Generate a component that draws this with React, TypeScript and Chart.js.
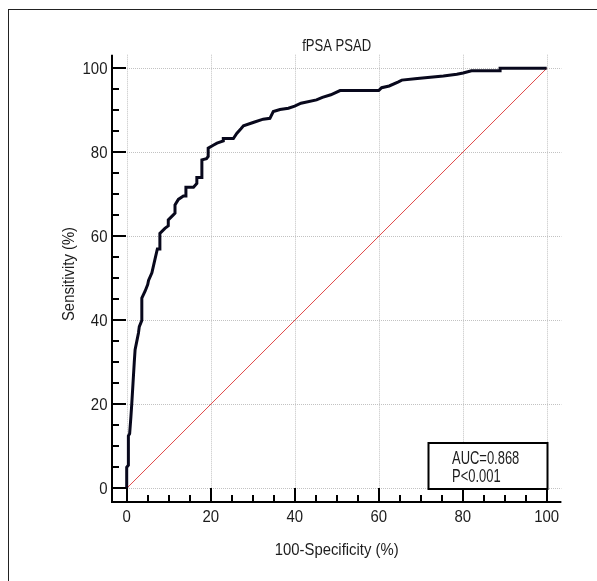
import React, { useEffect, useRef } from 'react';
import { Chart, registerables } from 'chart.js';

Chart.register(...registerables);

// ROC curve (100-Specificity %, Sensitivity %)
const fprValues = [
  0, 0, 0.4, 0.4, 0.7, 1.0, 1.2, 1.5, 1.8, 2.0, 2.4, 2.8, 3.0, 3.6, 3.6, 4.4, 5.0, 5.2, 6.0, 6.7,
  7.3, 7.9, 7.9, 9.1, 9.9, 9.9, 11.1, 11.5, 11.5, 12.3, 13.5, 14.1, 14.1, 15.9, 16.7, 16.7, 17.9, 17.9,
  19.0, 19.4, 19.4, 20.6, 21.5, 23.0, 23.0, 25.4, 26.2, 27.2, 27.8, 30.1, 32.5, 34.1, 34.9, 36.5, 38.5,
  40.0, 41.5, 45.2, 46.6, 48.6, 50.8, 60.0, 60.7, 62.5, 64.7, 65.5, 69.2, 75.4, 78.6, 80.1, 82.1, 88.9,
  88.9, 100,
];
const tprValues = [
  0, 5, 5.5, 12.5, 13, 17, 20, 25, 30, 33, 35, 37, 38.5, 40, 45.3, 47, 48.5, 49.5, 51.3, 54.4,
  57, 57, 60.7, 61.9, 62.5, 63.9, 65.1, 65.5, 67.5, 68.8, 69.6, 69.6, 71.7, 71.7, 72.6, 74, 74, 78.2,
  78.5, 79, 81, 81.7, 82.2, 82.7, 83.3, 83.3, 84.5, 85.6, 86.3, 87.1, 87.9, 88.1, 89.7, 90.2, 90.5,
  91, 91.7, 92.5, 93.1, 93.7, 94.7, 94.7, 95.4, 95.8, 96.8, 97.2, 97.6, 98.2, 98.6, 98.9, 99.4, 99.4,
  100, 100,
];
const diagX = [0, 100];
const diagY = [0, 100];
const majorTicks = [0, 20, 40, 60, 80, 100];
const minorStep = 5;
const titleText = 'fPSA PSAD';
const xTitle = '100-Specificity (%)';
const yTitle = 'Sensitivity (%)';
const statLines = ['AUC=0.868', 'P<0.001'];

const FONT = "'Liberation Sans', Arial, sans-serif";
const TEXT_COLOR = '#1c1c1c';

function narrowText(ctx: any, text: string, x: number, y: number, size: number, squeeze: number, align: string, rotate = false) {
  ctx.save();
  ctx.translate(x, y);
  if (rotate) ctx.rotate(-Math.PI / 2);
  ctx.scale(squeeze, 1);
  ctx.font = `${size}px ${FONT}`;
  ctx.fillStyle = TEXT_COLOR;
  ctx.textAlign = align;
  ctx.textBaseline = 'alphabetic';
  ctx.fillText(text, 0, 0);
  ctx.restore();
}

const decor = {
  id: 'decor',
  beforeDatasetsDraw(chart: any) {
    const { ctx, chartArea: a, scales } = chart;
    const x = scales.x;
    const y = scales.y;
    ctx.save();
    ctx.strokeStyle = '#c2c2c2';
    ctx.lineWidth = 1;
    ctx.setLineDash([1, 1]);
    for (const v of majorTicks) {
      const px = Math.round(x.getPixelForValue(v)) + 0.5;
      ctx.beginPath();
      ctx.moveTo(px, a.top);
      ctx.lineTo(px, a.bottom - 1);
      ctx.stroke();
      const py = Math.round(y.getPixelForValue(v)) + 0.5;
      ctx.beginPath();
      ctx.moveTo(a.left + 1, py);
      ctx.lineTo(a.right, py);
      ctx.stroke();
    }
    ctx.restore();
  },
  afterDatasetsDraw(chart: any) {
    const { ctx, chartArea: a, scales } = chart;
    const x = scales.x;
    const y = scales.y;
    ctx.save();
    // axis lines
    ctx.strokeStyle = '#000';
    ctx.lineWidth = 2;
    ctx.beginPath();
    ctx.moveTo(a.left, a.top);
    ctx.lineTo(a.left, a.bottom);
    ctx.lineTo(a.right, a.bottom);
    ctx.stroke();
    // inward ticks
    for (let v = 0; v <= 100; v += minorStep) {
      const len = majorTicks.includes(v) ? 14 : 7;
      const px = Math.round(x.getPixelForValue(v));
      ctx.beginPath();
      ctx.moveTo(px, a.bottom);
      ctx.lineTo(px, a.bottom - len);
      ctx.stroke();
      const py = Math.round(y.getPixelForValue(v));
      ctx.beginPath();
      ctx.moveTo(a.left, py);
      ctx.lineTo(a.left + len, py);
      ctx.stroke();
    }
    // tick labels
    for (const v of majorTicks) {
      narrowText(ctx, String(v), x.getPixelForValue(v), a.bottom + 19.5, 17, 0.88, 'center');
      narrowText(ctx, String(v), a.left - 4.5, y.getPixelForValue(v) + 6, 17, 0.88, 'right');
    }
    const cx = (a.left + a.right) / 2;
    // axis titles
    narrowText(ctx, xTitle, cx, 554.5, 16.5, 0.9, 'center');
    narrowText(ctx, yTitle, 74, 274, 16.5, 0.9, 'center', true);
    // chart title
    narrowText(ctx, titleText, cx, 50.5, 17, 0.77, 'center');
    // stats box
    const right = Math.round(x.getPixelForValue(100)) + 0.5;
    const bottom = Math.round(y.getPixelForValue(0)) + 1;
    const w = 119;
    const h = 46;
    ctx.fillStyle = '#fff';
    ctx.fillRect(right - w, bottom - h, w, h);
    ctx.strokeStyle = '#000';
    ctx.lineWidth = 2;
    ctx.strokeRect(right - w, bottom - h, w, h);
    statLines.forEach((t, i) => {
      narrowText(ctx, t, right - w + 23.5, bottom - h + 20.5 + i * 18.3, 17.5, 0.74, 'left');
    });
    ctx.restore();
  },
};

export default function App() {
  const ref = useRef<HTMLCanvasElement>(null);
  useEffect(() => {
    if (!ref.current) return;
    const chart = new Chart(ref.current, {
      type: 'scatter',
      data: {
        datasets: [
          {
            label: 'ROC',
            data: fprValues.map((v, i) => ({ x: v, y: tprValues[i] })),
            showLine: true,
            pointRadius: 0,
            borderColor: '#08081c',
            borderWidth: 3,
            borderJoinStyle: 'miter',
            fill: false,
          },
          {
            label: 'Reference',
            data: diagX.map((v, i) => ({ x: v, y: diagY[i] })),
            showLine: true,
            pointRadius: 0,
            borderColor: '#e04848',
            borderWidth: 1,
            fill: false,
          },
        ],
      },
      options: {
        animation: false,
        responsive: false,
        devicePixelRatio: 1,
        layout: { padding: { left: 0, right: 35.6, top: 54.7, bottom: 0 } },
        plugins: { legend: { display: false }, tooltip: { enabled: false }, title: { display: false } },
        scales: {
          x: {
            type: 'linear',
            min: -3.5,
            max: 103.5,
            afterFit: (s: any) => { s.height = 79; },
            grid: { display: false, drawTicks: false },
            border: { display: false },
            ticks: { display: false, stepSize: minorStep, includeBounds: false },
          },
          y: {
            type: 'linear',
            min: -3.25,
            max: 103.25,
            afterFit: (s: any) => { s.width = 112; },
            grid: { display: false, drawTicks: false },
            border: { display: false },
            ticks: { display: false, stepSize: minorStep, includeBounds: false },
          },
        },
      },
      plugins: [decor],
    } as any);
    return () => chart.destroy();
  }, []);
  return (
    <div style={{ position: 'fixed', left: 0, top: 0, width: 597, height: 581, background: '#fff', overflow: 'hidden' }}>
      <div style={{ position: 'absolute', left: 8, top: 9, width: 700, height: 700, border: '1.5px solid #222', boxSizing: 'border-box' }} />
      <canvas ref={ref} width={597} height={581} style={{ position: 'absolute', left: 0, top: 0, width: 597, height: 581 }} />
    </div>
  );
}
